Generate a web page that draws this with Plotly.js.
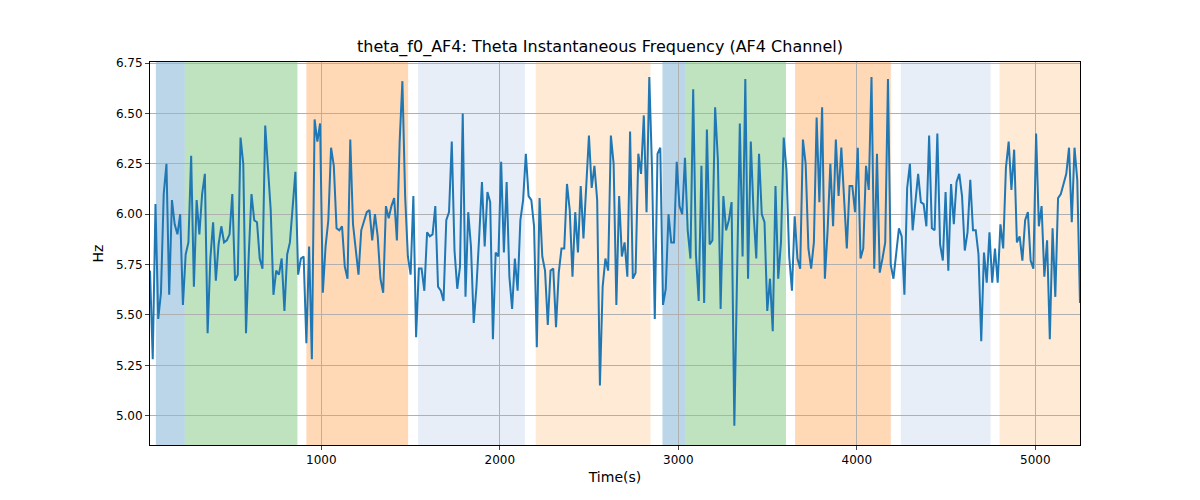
<!DOCTYPE html>
<html>
<head>
<meta charset="utf-8">
<script src="https://cdn.plot.ly/plotly-3.0.1.min.js"></script>
<style>body{margin:0;}</style>
</head>
<body>
<div id="chart" style="width:1200px;height:500px;"></div>
<script>
// sampled signal, evenly spaced in time
const tStart = 40;
const tEnd = 5250;
const freq = [
  5.72,5.28,6.05,5.48,5.61,6.1,6.25,5.6,6.07,5.95,5.9,6.0,5.55,5.8,5.86,6.29,5.64,6.07,5.9,6.1,
  6.2,5.41,5.78,5.96,5.67,5.85,5.94,5.86,5.87,5.9,6.1,5.67,5.7,6.38,6.25,5.41,5.8,6.1,5.97,5.96,
  5.78,5.73,6.44,6.24,6.02,5.6,5.72,5.7,5.78,5.52,5.8,5.86,6.02,6.21,5.7,5.78,5.79,5.36,
  5.84,5.28,6.47,6.36,6.45,5.61,5.84,5.97,6.33,6.24,5.93,5.92,5.94,5.74,5.68,6.37,5.95,5.83,5.7,
  5.92,5.96,6.01,6.02,5.87,6.0,5.89,5.68,5.61,6.04,5.98,6.04,6.08,5.87,6.36,6.66,6.09,5.79,5.7,
  6.09,5.39,5.73,5.73,5.62,5.91,5.89,5.9,6.04,5.64,5.62,5.57,5.97,6.01,6.36,5.82,5.63,5.74,
  6.5,5.59,6.01,5.84,5.46,5.64,5.89,6.16,5.84,6.11,6.06,5.38,5.81,5.79,6.26,5.81,6.16,5.69,5.53,
  5.78,5.62,5.97,6.07,6.3,6.09,6.07,5.94,5.34,6.08,5.79,5.72,5.45,5.72,5.73,5.44,5.71,5.83,5.83,
  6.15,6.02,5.69,6.01,5.81,6.14,5.88,6.14,6.39,6.13,6.24,6.07,5.15,5.64,5.78,5.72,6.39,6.25,5.55,
  6.09,5.79,5.86,5.69,6.41,5.68,5.71,6.3,6.2,6.49,6.01,6.68,6.22,5.48,6.3,6.33,5.55,5.63,6.0,
  5.86,5.86,6.26,6.04,6.0,6.28,5.92,5.78,6.62,5.8,5.57,6.24,5.56,6.42,5.85,5.87,6.53,6.27,5.53,
  6.09,5.92,5.97,6.06,4.95,5.78,6.45,5.79,6.67,5.68,6.36,6.01,5.78,6.3,6.0,5.96,5.52,
  5.68,5.42,6.14,5.68,5.86,6.38,6.22,5.79,5.62,5.99,5.78,5.73,6.37,6.25,5.83,5.73,5.86,6.48,6.06,
  6.53,5.68,5.92,6.25,5.94,6.37,6.09,6.33,6.1,5.83,6.14,6.14,6.01,6.33,5.78,5.83,6.24,6.12,6.68,
  5.73,6.3,5.71,5.78,5.86,6.67,5.75,5.68,5.8,5.93,5.89,5.6,6.13,6.25,5.92,6.07,6.2,6.06,
  6.05,5.94,6.39,5.93,5.92,6.4,5.85,5.77,6.11,5.72,6.15,5.95,6.16,6.2,6.09,5.82,5.91,6.17,5.92,
  5.92,5.8,5.37,5.81,5.66,5.91,5.66,5.83,5.66,5.95,5.83,6.23,6.36,6.12,6.32,5.86,5.89,5.77,5.97,
  6.01,5.77,5.73,6.4,5.94,6.04,5.69,5.87,5.38,5.93,5.59,6.08,6.1,6.15,6.2,6.33,5.96,6.33,6.17,5.56
];
const time = freq.map((v, i) => tStart + i * (tEnd - tStart) / (freq.length - 1));

// segment bands
const bandStart = [73, 235, 916, 1542, 2201, 2911, 3039, 3654, 4246, 4799];
const bandEnd   = [235, 866, 1486, 2140, 2844, 3039, 3603, 4190, 4749, 5300];
const bandColor = ['#1f77b4','#2ca02c','#ff7f0e','#aec7e8','#ffbb78','#1f77b4','#2ca02c','#ff7f0e','#aec7e8','#ffbb78'];

const shapes = bandStart.map((s, i) => ({
  type: 'rect', xref: 'x', yref: 'paper', x0: s, x1: bandEnd[i], y0: 0, y1: 1,
  fillcolor: bandColor[i], opacity: 0.3, line: {width: 0}, layer: 'below'
}));

const trace = {
  x: time, y: freq, type: 'scatter', mode: 'lines',
  line: {color: '#1f77b4', width: 2}
};

const layout = {
  width: 1200, height: 500,
  margin: {l: 150, r: 120, t: 62, b: 55},
  paper_bgcolor: 'white', plot_bgcolor: 'white',
  font: {family: 'DejaVu Sans', size: 12, color: '#000'},
  title: {text: 'theta_f0_AF4: Theta Instantaneous Frequency (AF4 Channel)', x: 0.5, y: 0.908, yanchor: 'middle', yref: 'container', font: {size: 16}},
  showlegend: false,
  shapes: shapes,
  xaxis: {
    range: [40, 5250], tickvals: [1000, 2000, 3000, 4000, 5000],
    showgrid: true, gridcolor: '#b0b0b0', zeroline: false,
    showline: true, mirror: true, linecolor: '#000', ticks: 'outside', ticklen: 4,
    title: {text: 'Time(s)', standoff: 5}
  },
  yaxis: {
    range: [4.855, 6.755], tickvals: [5.0, 5.25, 5.5, 5.75, 6.0, 6.25, 6.5, 6.75],
    ticktext: ['5.00','5.25','5.50','5.75','6.00','6.25','6.50','6.75'],
    showgrid: true, gridcolor: '#b0b0b0', zeroline: false,
    showline: true, mirror: true, linecolor: '#000', ticks: 'outside', ticklen: 4,
    title: {text: 'Hz', standoff: 8}
  }
};

Plotly.newPlot('chart', [trace], layout, {displayModeBar: false});
</script>
</body>
</html>
